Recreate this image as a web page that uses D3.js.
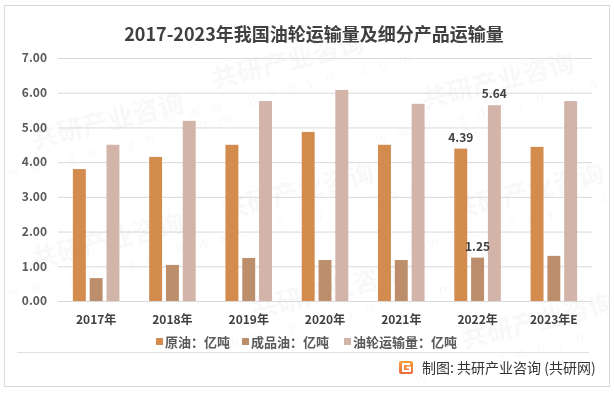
<!DOCTYPE html>
<html>
<head>
<meta charset="utf-8">
<script src="https://cdn.jsdelivr.net/npm/d3@7"></script>
<style>
  body { margin: 0; background: #fff; }
  text { font-family: "Microsoft YaHei", "Noto Sans CJK SC", sans-serif; }
</style>
</head>
<body>
<svg id="chart" width="614" height="393"></svg>
<script>
const years = ["2017年", "2018年", "2019年", "2020年", "2021年", "2022年", "2023年E"];
const seriesNames = ["原油：亿吨", "成品油：亿吨", "油轮运输量：亿吨"];
const crudeOil = [3.80, 4.15, 4.50, 4.87, 4.50, 4.39, 4.44];
const refinedOil = [0.66, 1.04, 1.24, 1.18, 1.18, 1.25, 1.30];
const tankerTotal = [4.50, 5.19, 5.76, 6.08, 5.68, 5.64, 5.76];
const yTicks = [0, 1, 2, 3, 4, 5, 6, 7];
// only the 2022 bars carry labels in the source
const labelled = { "2022年": true };

const colors = ["#D48C4E", "#BD8E6C", "#D2B4A9"];
const margin = { top: 58, right: 22, bottom: 92, left: 58 };
const width = 614 - margin.left - margin.right;
const height = 393 - margin.top - margin.bottom;

const svg = d3.select("#chart");
const defs = svg.append("defs");

// frame
svg.append("rect")
  .attr("x", 4.5).attr("y", 5.5).attr("width", 605).attr("height", 381)
  .attr("fill", "#fff").attr("stroke", "#D9D9D9");

defs.append("clipPath").attr("id", "frameClip")
  .append("rect").attr("x", 5).attr("y", 6).attr("width", 604).attr("height", 380);

// faint watermark
const wm = svg.append("g").attr("clip-path", "url(#frameClip)")
  .append("g").attr("fill", "#000").attr("opacity", 0.03);
[[290, 70], [500, 90], [110, 130], [300, 200], [530, 200], [110, 250], [330, 300], [540, 330]].forEach(([x, y]) => {
  const g = wm.append("g").attr("transform", `translate(${x},${y}) rotate(-14)`);
  g.append("text").attr("text-anchor", "middle").attr("font-size", 26).attr("font-weight", "bold").text("共研产业咨询");
  g.append("text").attr("text-anchor", "middle").attr("y", 22).attr("font-size", 14).attr("letter-spacing", 12).text("www.gonyn.com");
});

svg.append("text")
  .attr("x", 314).attr("y", 41)
  .attr("text-anchor", "middle")
  .attr("font-size", 18).attr("font-weight", "bold").attr("fill", "#404040")
  .text("2017-2023年我国油轮运输量及细分产品运输量");

const x0 = d3.scaleBand().domain(years).range([0, width]).paddingInner(0.39).paddingOuter(0.195);
const x1 = d3.scaleBand().domain([0, 1, 2]).range([0, x0.bandwidth()]).paddingInner(0.23);
const y = d3.scaleLinear().domain([0, 7]).range([height, 0]);

const plot = svg.append("g").attr("transform", `translate(${margin.left},${margin.top})`);

plot.append("g")
  .call(d3.axisLeft(y).tickValues(yTicks).tickSize(-width).tickFormat(d3.format(".2f")))
  .call(g => g.select(".domain").remove())
  .call(g => g.selectAll(".tick line").attr("stroke", "#D9D9D9"))
  .call(g => g.selectAll(".tick text")
    .attr("x", -11).attr("fill", "#595959")
    .attr("font-size", 12).attr("font-weight", "bold"));

const rows = years.map((yr, i) => ({ year: yr, values: [crudeOil[i], refinedOil[i], tankerTotal[i]] }));

const groups = plot.selectAll(".grp")
  .data(rows)
  .join("g")
  .attr("class", "grp")
  .attr("transform", d => `translate(${x0(d.year)},0)`);

groups.selectAll("rect")
  .data(d => d.values.map((v, k) => ({ v, k, year: d.year })))
  .join("rect")
  .attr("x", d => x1(d.k))
  .attr("y", d => y(d.v))
  .attr("width", x1.bandwidth())
  .attr("height", d => height - y(d.v))
  .attr("fill", d => colors[d.k]);

groups.selectAll(".lbl")
  .data(d => labelled[d.year] ? d.values.map((v, k) => ({ v, k })) : [])
  .join("text")
  .attr("class", "lbl")
  .attr("x", d => x1(d.k) + x1.bandwidth() / 2)
  .attr("y", d => y(d.v) - 7)
  .attr("text-anchor", "middle")
  .attr("font-size", 12).attr("font-weight", "bold").attr("fill", "#404040")
  .text(d => d.v.toFixed(2));

plot.append("g")
  .attr("transform", `translate(0,${height})`)
  .call(d3.axisBottom(x0).tickSize(0))
  .call(g => g.select(".domain").attr("stroke", "#D9D9D9"))
  .call(g => g.selectAll(".tick text")
    .attr("dy", 0).attr("y", 23).attr("fill", "#404040")
    .attr("font-size", 12).attr("font-weight", "bold"));

// legend
const legendX = [156, 242, 344];
const legend = svg.append("g");
seriesNames.forEach((name, i) => {
  legend.append("rect").attr("x", legendX[i]).attr("y", 338).attr("width", 7).attr("height", 7).attr("fill", colors[i]);
  legend.append("text").attr("x", legendX[i] + 9).attr("y", 347)
    .attr("font-size", 13).attr("font-weight", "bold").attr("fill", "#595959").text(name);
});

svg.append("line")
  .attr("x1", 17).attr("x2", 589).attr("y1", 352.5).attr("y2", 352.5)
  .attr("stroke", "#E0E0E0");

// source logo + text
const logo = svg.append("g").attr("transform", "translate(399,361)");
const grad = defs.append("linearGradient").attr("id", "lg").attr("x1", 0).attr("y1", 0).attr("x2", 0).attr("y2", 1);
grad.append("stop").attr("offset", 0).attr("stop-color", "#F7A23B");
grad.append("stop").attr("offset", 1).attr("stop-color", "#EE6A3A");
logo.append("rect").attr("width", 14).attr("height", 13).attr("rx", 2).attr("fill", "url(#lg)");
logo.append("path").attr("d", "M11,3 H4 V10 H11 V6.5 H7.5").attr("fill", "none").attr("stroke", "#fff").attr("stroke-width", 2);

svg.append("text")
  .attr("x", 422).attr("y", 373)
  .attr("font-size", 14).attr("fill", "#333")
  .text("制图: 共研产业咨询 (共研网)");
</script>
</body>
</html>
